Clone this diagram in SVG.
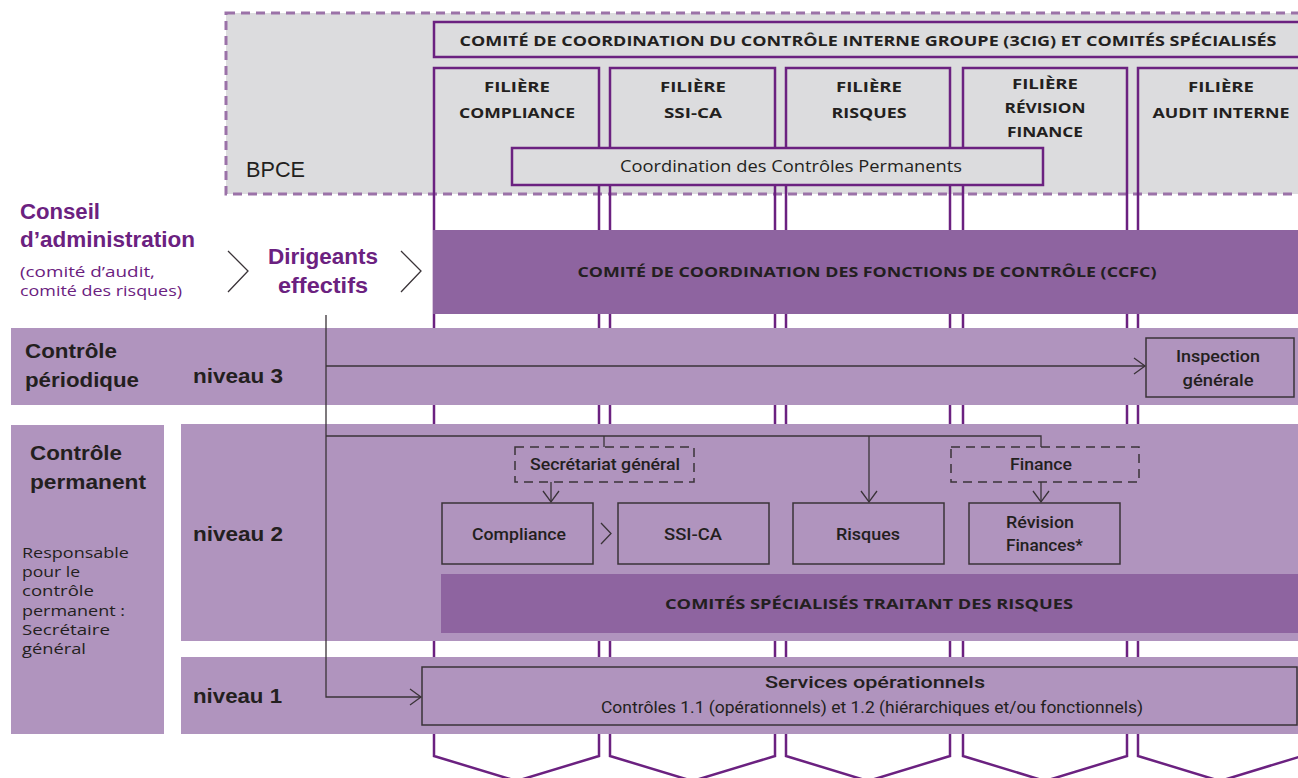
<svg xmlns="http://www.w3.org/2000/svg" width="1298" height="778" viewBox="0 0 1298 778">
<defs>
<style>
.col{fill:none;stroke:#6b2180;stroke-width:2.5;stroke-linejoin:miter}
.band{fill:#b094be}
.dark{fill:#8e64a0}
.box{fill:none;stroke:#3a3338;stroke-width:1.5}
.dash{fill:none;stroke:#3a3338;stroke-width:1.5;stroke-dasharray:9 6}
.con{fill:none;stroke:#3a3338;stroke-width:1.3}
.cap{font-family:"Open Sans","Liberation Sans",sans-serif;font-weight:700;font-size:15px;fill:#231f20;text-anchor:middle}
.lbl{font-family:Roboto,"Liberation Sans",sans-serif;font-weight:500;font-size:17px;fill:#231f20;text-anchor:middle}
.big{font-family:"Liberation Sans",Arial,sans-serif;font-weight:700;font-size:21px;fill:#231f20}
.pur{font-family:"Liberation Sans",Arial,sans-serif;font-weight:700;font-size:22px;fill:#6b2180}
.small{font-family:"Open Sans","Liberation Sans",sans-serif;font-size:15px;fill:#231f20}
</style>
<marker id="ah" markerUnits="userSpaceOnUse" markerWidth="14" markerHeight="20" refX="12" refY="10" orient="auto">
<path d="M1,2 L12,10 L1,18" fill="none" stroke="#3a3338" stroke-width="1.3"/>
</marker>
</defs>

<g id="bpce">
<rect x="226" y="13" width="1080" height="181" fill="#dcdcde" stroke="#9b72a8" stroke-width="3" stroke-dasharray="9 6"/>
<text x="246" y="177" font-family="'Liberation Sans',Arial,sans-serif" font-size="22" fill="#231f20" textLength="59" lengthAdjust="spacingAndGlyphs">BPCE</text>
</g>

<g id="columns">
<path class="col" d="M434,68 V756 L516.5,781 L599,756 V68 Z"/>
<path class="col" d="M610,68 V756 L692.5,781 L775,756 V68 Z"/>
<path class="col" d="M786,68 V756 L868,781 L950,756 V68 Z"/>
<path class="col" d="M963,68 V756 L1045,781 L1127,756 V68 Z"/>
<path class="col" d="M1138,68 V756 L1220,781 L1302,756 V68 Z"/>
</g>

<g id="header3cig">
<rect x="434" y="22" width="870" height="35" fill="#dcdcde" stroke="#6b2180" stroke-width="2.5"/>
<text class="cap" x="868" y="46" font-size="14" textLength="817" lengthAdjust="spacingAndGlyphs">COMITÉ DE COORDINATION DU CONTRÔLE INTERNE GROUPE (3CIG) ET COMITÉS SPÉCIALISÉS</text>
</g>

<g id="filiere-compliance">
<text class="cap" x="517" y="92" textLength="66" lengthAdjust="spacingAndGlyphs">FILIÈRE</text>
<text class="cap" x="517" y="118" textLength="116" lengthAdjust="spacingAndGlyphs">COMPLIANCE</text>
</g>
<g id="filiere-ssica">
<text class="cap" x="693" y="92" textLength="66" lengthAdjust="spacingAndGlyphs">FILIÈRE</text>
<text class="cap" x="693" y="118" textLength="58" lengthAdjust="spacingAndGlyphs">SSI-CA</text>
</g>
<g id="filiere-risques">
<text class="cap" x="869" y="92" textLength="66" lengthAdjust="spacingAndGlyphs">FILIÈRE</text>
<text class="cap" x="869" y="118" textLength="75" lengthAdjust="spacingAndGlyphs">RISQUES</text>
</g>
<g id="filiere-revision">
<text class="cap" x="1045" y="89" textLength="66" lengthAdjust="spacingAndGlyphs">FILIÈRE</text>
<text class="cap" x="1045" y="113" textLength="81" lengthAdjust="spacingAndGlyphs">RÉVISION</text>
<text class="cap" x="1045" y="137" textLength="76" lengthAdjust="spacingAndGlyphs">FINANCE</text>
</g>
<g id="filiere-audit">
<text class="cap" x="1221" y="92" textLength="66" lengthAdjust="spacingAndGlyphs">FILIÈRE</text>
<text class="cap" x="1221" y="118" textLength="137" lengthAdjust="spacingAndGlyphs">AUDIT INTERNE</text>
</g>

<g id="coordination">
<rect x="512" y="148" width="531" height="37" fill="#dcdcde" stroke="#6b2180" stroke-width="2.5"/>
<text x="791" y="172" text-anchor="middle" font-family="'Open Sans','Liberation Sans',sans-serif" font-size="15.5" fill="#231f20" textLength="342" lengthAdjust="spacingAndGlyphs">Coordination des Contrôles Permanents</text>
</g>

<g id="conseil">
<text class="pur" x="20" y="219" textLength="80" lengthAdjust="spacingAndGlyphs">Conseil</text>
<text class="pur" x="20" y="247" textLength="175" lengthAdjust="spacingAndGlyphs">d’administration</text>
<text x="20" y="277" font-family="'Open Sans','Liberation Sans',sans-serif" font-size="15" fill="#6b2180" textLength="135" lengthAdjust="spacingAndGlyphs">(comité d’audit,</text>
<text x="20" y="296" font-family="'Open Sans','Liberation Sans',sans-serif" font-size="15" fill="#6b2180" textLength="162" lengthAdjust="spacingAndGlyphs">comité des risques)</text>
</g>
<g id="dirigeants">
<text class="pur" x="323" y="264" text-anchor="middle" textLength="110" lengthAdjust="spacingAndGlyphs">Dirigeants</text>
<text class="pur" x="323" y="293" text-anchor="middle" textLength="90" lengthAdjust="spacingAndGlyphs">effectifs</text>
</g>

<g id="ccfc">
<rect class="dark" x="433" y="230" width="865" height="84"/>
<text class="cap" x="867" y="277" font-size="14" textLength="579" lengthAdjust="spacingAndGlyphs">COMITÉ DE COORDINATION DES FONCTIONS DE CONTRÔLE (CCFC)</text>
</g>

<g id="niveau3">
<rect class="band" x="11" y="328" width="1287" height="77"/>
<text class="big" x="25" y="358" textLength="92" lengthAdjust="spacingAndGlyphs">Contrôle</text>
<text class="big" x="25" y="387" textLength="114" lengthAdjust="spacingAndGlyphs">périodique</text>
<text class="big" x="193" y="383" textLength="90" lengthAdjust="spacingAndGlyphs">niveau 3</text>
</g>

<g id="controle-permanent">
<rect class="band" x="11" y="425" width="153" height="309"/>
<text class="big" x="30" y="460" textLength="92" lengthAdjust="spacingAndGlyphs">Contrôle</text>
<text class="big" x="30" y="489" textLength="116" lengthAdjust="spacingAndGlyphs">permanent</text>
<text class="small" x="22" y="558" textLength="107" lengthAdjust="spacingAndGlyphs">Responsable</text>
<text class="small" x="22" y="577" textLength="58" lengthAdjust="spacingAndGlyphs">pour le</text>
<text class="small" x="22" y="596" textLength="72" lengthAdjust="spacingAndGlyphs">contrôle</text>
<text class="small" x="22" y="616" textLength="103" lengthAdjust="spacingAndGlyphs">permanent :</text>
<text class="small" x="22" y="635" textLength="88" lengthAdjust="spacingAndGlyphs">Secrétaire</text>
<text class="small" x="22" y="654" textLength="64" lengthAdjust="spacingAndGlyphs">général</text>
</g>

<g id="niveau2">
<rect class="band" x="181" y="424" width="1117" height="217"/>
<text class="big" x="193" y="541" textLength="90" lengthAdjust="spacingAndGlyphs">niveau 2</text>
</g>
<g id="comites-specialises">
<rect class="dark" x="441" y="574" width="857" height="59"/>
<text class="cap" x="869" y="609" font-size="14" textLength="408" lengthAdjust="spacingAndGlyphs">COMITÉS SPÉCIALISÉS TRAITANT DES RISQUES</text>
</g>

<g id="niveau1">
<rect class="band" x="181" y="657" width="1117" height="77"/>
<text class="big" x="193" y="703" textLength="89" lengthAdjust="spacingAndGlyphs">niveau 1</text>
</g>

<g id="inspection">
<rect class="box" x="1146" y="338" width="148" height="59"/>
<text class="lbl" x="1218" y="362" textLength="84" lengthAdjust="spacingAndGlyphs">Inspection</text>
<text class="lbl" x="1218" y="386" textLength="71" lengthAdjust="spacingAndGlyphs">générale</text>
</g>
<g id="secretariat">
<rect class="dash" x="515" y="447" width="179" height="35"/>
<text class="lbl" x="605" y="470" textLength="150" lengthAdjust="spacingAndGlyphs">Secrétariat général</text>
</g>
<g id="finance">
<rect class="dash" x="951" y="447" width="188" height="35"/>
<text class="lbl" x="1041" y="470" textLength="62" lengthAdjust="spacingAndGlyphs">Finance</text>
</g>
<g id="compliance">
<rect class="box" x="442" y="503" width="151" height="61"/>
<text class="lbl" x="519" y="540" textLength="94" lengthAdjust="spacingAndGlyphs">Compliance</text>
</g>
<g id="ssica">
<rect class="box" x="618" y="503" width="151" height="61"/>
<text class="lbl" x="693" y="540" textLength="58" lengthAdjust="spacingAndGlyphs">SSI-CA</text>
</g>
<g id="risques">
<rect class="box" x="793" y="503" width="151" height="61"/>
<text class="lbl" x="868" y="540" textLength="64" lengthAdjust="spacingAndGlyphs">Risques</text>
</g>
<g id="revision">
<rect class="box" x="969" y="503" width="151" height="61"/>
<text class="lbl" x="1040" y="528" textLength="68" lengthAdjust="spacingAndGlyphs">Révision</text>
<text class="lbl" x="1044.5" y="551" textLength="77" lengthAdjust="spacingAndGlyphs">Finances*</text>
</g>
<g id="services">
<rect class="box" x="422" y="667" width="875" height="58"/>
<text class="lbl" x="875" y="688" font-size="19" textLength="220" lengthAdjust="spacingAndGlyphs">Services opérationnels</text>
<text x="872" y="713" text-anchor="middle" font-family="Roboto,'Liberation Sans',sans-serif" font-size="16" fill="#231f20" textLength="542" lengthAdjust="spacingAndGlyphs">Contrôles 1.1 (opérationnels) et 1.2 (hiérarchiques et/ou fonctionnels)</text>
</g>

<g id="connectors">
<polyline class="con" points="228,251 248,271 228,292"/>
<polyline class="con" points="401,251 421,271 401,292"/>
<polyline class="con" points="601,523 611,533.5 601,544"/>
<path class="con" d="M326,315 V697 H421" marker-end="url(#ah)"/>
<path class="con" d="M326,366 H1145" marker-end="url(#ah)"/>
<path class="con" d="M326,436 H1041 V447"/>
<path class="con" d="M604,436 V447"/>
<path class="con" d="M869,436 V502" marker-end="url(#ah)"/>
<path class="con" d="M551,482 V502" marker-end="url(#ah)"/>
<path class="con" d="M1041,482 V502" marker-end="url(#ah)"/>
</g>
</svg>
